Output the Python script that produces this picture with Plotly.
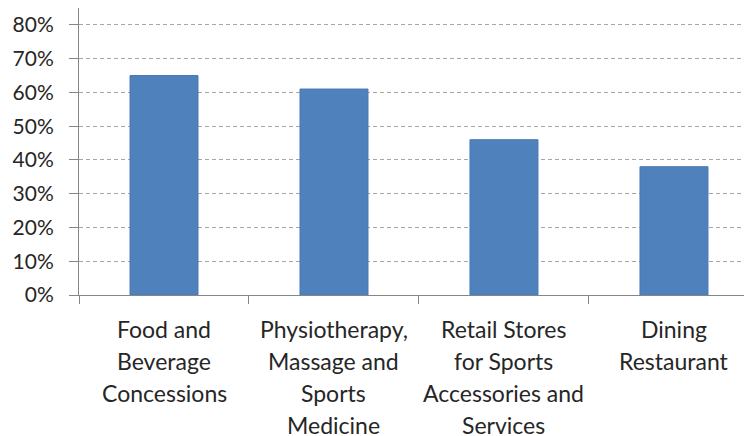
import plotly.graph_objects as go

categories = [
    "Food and Beverage Concessions",
    "Physiotherapy, Massage and Sports Medicine",
    "Retail Stores for Sports Accessories and Services",
    "Dining Restaurant",
]
label_lines = [
    ["Food and", "Beverage", "Concessions"],
    ["Physiotherapy,", "Massage and", "Sports", "Medicine"],
    ["Retail Stores", "for Sports", "Accessories and", "Services"],
    ["Dining", "Restaurant"],
]
shares = [0.65, 0.61, 0.46, 0.38]
y_ticks = [0, 0.1, 0.2, 0.3, 0.4, 0.5, 0.6, 0.7, 0.8]

FONT = "Lato"
TEXT = "#262626"
BAR = "#4f81bd"

fig = go.Figure(
    go.Bar(
        x=categories,
        y=shares,
        width=0.4,
        marker=dict(color=BAR, line=dict(color="#4a7ab4", width=1)),
        hoverinfo="skip",
    )
)

# category labels, one annotation per line so the line spacing matches
for cat, lines in zip(categories, label_lines):
    for j, txt in enumerate(lines):
        fig.add_annotation(
            x=cat, y=0, xref="x", yref="y",
            text=txt, showarrow=False,
            xanchor="center", yanchor="middle",
            yshift=-(34 + 32 * j),
            font=dict(family=FONT, size=23, color=TEXT),
        )

# page body adds an 8px offset, so the figure is 8px smaller each way
fig.update_layout(
    width=744,
    height=428,
    margin=dict(l=71, r=0, t=0, b=141),
    paper_bgcolor="white",
    plot_bgcolor="white",
    showlegend=False,
    font=dict(family=FONT, size=21, color=TEXT),
    xaxis=dict(
        range=[-0.5, 3.459],
        automargin=False,
        showticklabels=False,
        showgrid=False,
        showline=True,
        linecolor="#868686",
        linewidth=1,
        ticks="outside",
        tickson="boundaries",
        ticklen=8,
        tickcolor="#868686",
    ),
    yaxis=dict(
        range=[0, 0.85],
        automargin=False,
        tickvals=y_ticks,
        tickformat=".0%",
        showgrid=True,
        gridcolor="#a6a6a6",
        griddash="4px,3px",
        gridwidth=1,
        zeroline=False,
        showline=True,
        linecolor="#868686",
        linewidth=1,
        ticks="outside",
        ticklen=9,
        tickcolor="#868686",
        ticklabelstandoff=11,
        tickfont=dict(family=FONT, size=21, color=TEXT),
    ),
)

fig.write_html("out.html")
